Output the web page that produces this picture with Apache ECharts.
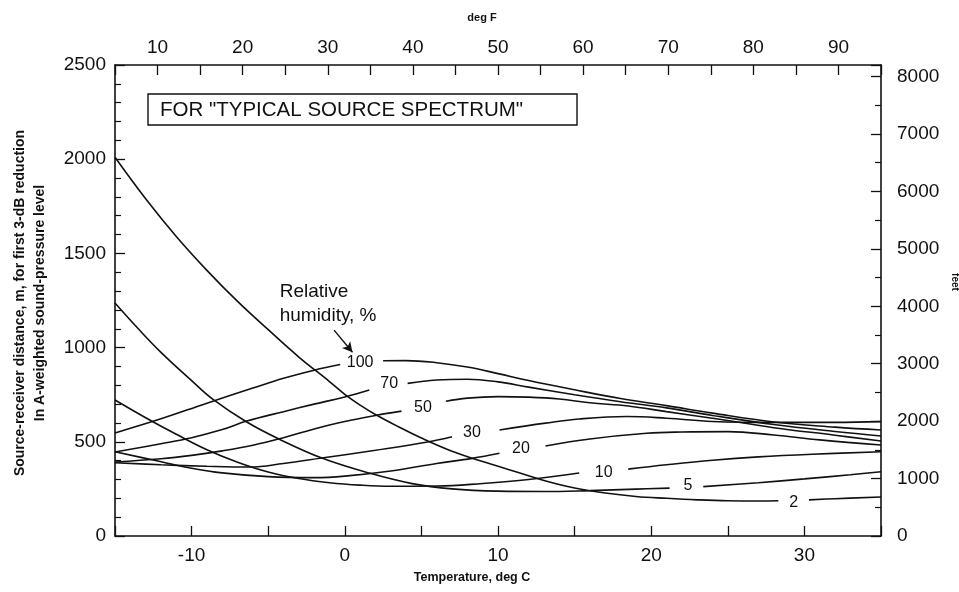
<!DOCTYPE html>
<html><head><meta charset="utf-8">
<script src="https://cdn.jsdelivr.net/npm/echarts@6/dist/echarts.min.js"></script>
<style>html,body{margin:0;padding:0;background:#fff;}#c{width:959px;height:592px;}</style>
</head><body><div id="c"></div>
<script>
// Relative humidity curves: [deg C, distance m]; null marks the gap where the label sits
const RH100 = [[-15,547],[-12,622],[-9,705],[-6,785],[-4,837],[-2,880],[-0.3,910],[1,null],[2.5,930],[4,931],[6,920],[8,897],[10,862],[12,825],[15,776],[18,730],[21,692],[24,652],[28,605],[32,578],[35,563]];
const RH70  = [[-15,446],[-12,490],[-10,522],[-8,565],[-6.4,610],[-4,660],[-2,700],[0,738],[1.6,775],[2.9,null],[4.1,810],[6,828],[8,832],[10,818],[12,790],[15,750],[18,713],[21,680],[24,640],[28,592],[32,555],[35,531]];
const RH50  = [[-15,393],[-12,410],[-10,428],[-8,452],[-6,482],[-4,522],[-2,568],[0,608],[2,640],[3.7,663],[5.1,null],[6.6,715],[8,732],[10,740],[12,737],[14,727],[16,707],[18.5,690],[21,660],[24,625],[28,575],[32,535],[35,504]];
const RH30  = [[-15,389],[-12,378],[-9,370],[-6.2,366],[-4,385],[-1.5,414],[2,455],[5.4,499],[7,527],[8.5,null],[10.1,563],[13.1,599],[15.3,621],[18.4,634],[21,625],[24,608],[28,603],[32,603],[35,607]];
const RH20  = [[-15,447],[-12.5,403],[-10,360],[-8,335],[-5,315],[-2,310],[0,318],[3,345],[6,385],[8.3,412],[10.1,439],[11.5,null],[13.1,478],[16,515],[19.7,545],[22,552],[25,554],[28,536],[31,510],[35,483]];
const RH10  = [[-15,722],[-13,628],[-11,540],[-9,458],[-7,392],[-5,340],[-3,305],[-1,283],[1,270],[3,264],[6,265],[9,279],[12,300],[15.3,334],[16.9,null],[18.5,355],[21,378],[24,402],[27,420],[30.5,434],[35,447]];
const RH5   = [[-15,1237],[-13.4,1093],[-12,975],[-10,825],[-8.6,725],[-6.4,605],[-4.3,515],[-1.5,414],[1.6,334],[4.4,278],[7,250],[10,238],[13,236],[16,241],[19,249],[21.2,254],[22.3,null],[23.4,262],[27,283],[30,303],[33,325],[35,341]];
const RH2   = [[-15,2010],[-13,1790],[-11,1590],[-9,1410],[-7,1245],[-5,1095],[-3,950],[-1,820],[0,752],[1,695],[2,645],[3.5,580],[5,520],[7,450],[9,395],[11,345],[13,295],[15,255],[17,228],[19,210],[21,200],[23,192],[25,187],[27,186],[28.3,187],[29.3,null],[30.3,192],[32,198],[35,207]];

const curveNames = ['100','70','50','30','20','10','5','2'];
const curveData  = [RH100,RH70,RH50,RH30,RH20,RH10,RH5,RH2];
// label positions [deg C, m]
const labelPos = [[1,918],[2.9,807],[5.1,679],[8.3,547],[11.5,462],[16.9,336],[22.4,265],[29.3,175]];

const FT_PER_M = 3.28084;
const xTicksC = { min:-15, max:35, interval:5 };
const xTicksF = { min:5, max:95, interval:5 };

const chart = echarts.init(document.getElementById('c'), null, {renderer:'canvas'});
const FONT = 'Liberation Sans';
const tickLabel = {color:'#111', fontFamily:FONT, fontSize:19};
const axLine = {show:true, onZero:false, lineStyle:{color:'#111', width:1.6}};

const series = curveData.map((d,i)=>({
  type:'line', name:curveNames[i], xAxisIndex:0, yAxisIndex:0,
  data:d.map(p=>[p[0], p[1]===null?'-':p[1]]),
  showSymbol:false, smooth:0.4, connectNulls:false,
  lineStyle:{color:'#111', width:1.6}, silent:true, z:3
}));
series.push({
  type:'scatter', xAxisIndex:0, yAxisIndex:0, symbolSize:0, silent:true,
  itemStyle:{opacity:1, color:'#111'},
  data: labelPos.map((p,i)=>({value:p, name:curveNames[i]})),
  label:{show:true, position:'inside', formatter:'{b}', color:'#111', opacity:1, textBorderWidth:0, fontFamily:FONT, fontSize:16},
  markLine:{silent:true, symbol:['none','arrow'], symbolSize:[8,10],
    lineStyle:{color:'#111', width:1.4, type:'solid', opacity:1}, label:{show:false},
    data:[[{coord:[-0.7,1093]},{coord:[0.5,975]}]]}
});

chart.setOption({
  animation:false,
  backgroundColor:'#fff',
  grid:{left:115, right:78, top:65, bottom:56, show:false, containLabel:false, outerBoundsMode:'none'},
  xAxis:[
    {type:'value', position:'bottom', min:xTicksC.min, max:xTicksC.max, interval:xTicksC.interval,
     axisLine:axLine,
     axisTick:{show:true, inside:true, length:10, lineStyle:{color:'#111', width:1.3}},
     axisLabel:{...tickLabel, margin:10, formatter:v=> (v%10===0 && v>xTicksC.min && v<xTicksC.max) ? String(v) : ''},
     splitLine:{show:false}},
    {type:'value', position:'top', min:xTicksF.min, max:xTicksF.max, interval:xTicksF.interval,
     axisLine:axLine,
     axisTick:{show:true, inside:true, length:10, lineStyle:{color:'#111', width:1.3}},
     axisLabel:{...tickLabel, margin:8, formatter:v=> (v%10===0) ? String(v) : ''},
     splitLine:{show:false}}
  ],
  yAxis:[
    {type:'value', position:'left', min:0, max:2500, interval:500,
     axisLine:axLine,
     axisTick:{show:true, inside:true, length:10, lineStyle:{color:'#111', width:1.3}},
     minorTick:{show:true, splitNumber:5, length:6, lineStyle:{color:'#111', width:1.2}},
     axisLabel:{...tickLabel, margin:9, formatter:v=>String(v)},
     splitLine:{show:false}},
    {type:'value', position:'right', min:0, max:2500*FT_PER_M, interval:1000,
     axisLine:axLine,
     axisTick:{show:true, inside:true, length:10, lineStyle:{color:'#111', width:1.3}},
     minorTick:{show:true, splitNumber:2, length:6, lineStyle:{color:'#111', width:1.2}},
     axisLabel:{...tickLabel, margin:16, formatter:v=>String(v)},
     splitLine:{show:false}}
  ],
  series:series
});

// annotations placed in data coordinates
function P(c,m){ return chart.convertToPixel({xAxisIndex:0,yAxisIndex:0},[c,m]); }
const relPos = P(-4.25, 1231);
chart.setOption({
  graphic:[
    {type:'rect', shape:{x:148, y:94, width:429, height:31}, style:{fill:'#fff', stroke:'#111', lineWidth:1.4}, z:10},
    {type:'text', x:160, y:110, style:{text:'FOR "TYPICAL SOURCE SPECTRUM"', font:'20.5px "Liberation Sans"', fill:'#111', textVerticalAlign:'middle'}, z:11},
    {type:'text', x:relPos[0], y:relPos[1], style:{text:'Relative\nhumidity, %', font:'19px "Liberation Sans"', fill:'#111', textAlign:'left', textVerticalAlign:'middle', lineHeight:24}, z:11},
    {type:'text', rotation:Math.PI/2, x:30, y:303, style:{text:'Source-receiver distance, m, for first 3-dB reduction\nIn A-weighted sound-pressure level', font:'bold 14px "Liberation Sans"', fill:'#111', textAlign:'center', textVerticalAlign:'middle', lineHeight:20}, z:11},
    {type:'text', x:482, y:18, style:{text:'deg F', font:'bold 11px "Liberation Sans"', fill:'#111', textAlign:'center', textVerticalAlign:'middle'}, z:11},
    {type:'text', x:472, y:578, style:{text:'Temperature, deg C', font:'bold 12.5px "Liberation Sans"', fill:'#111', textAlign:'center', textVerticalAlign:'middle'}, z:11},
    {type:'text', rotation:-Math.PI/2, x:955, y:282, style:{text:'feet', font:'bold 10px "Liberation Sans"', fill:'#111', textAlign:'center', textVerticalAlign:'middle'}, z:11}
  ]
});
</script></body></html>
